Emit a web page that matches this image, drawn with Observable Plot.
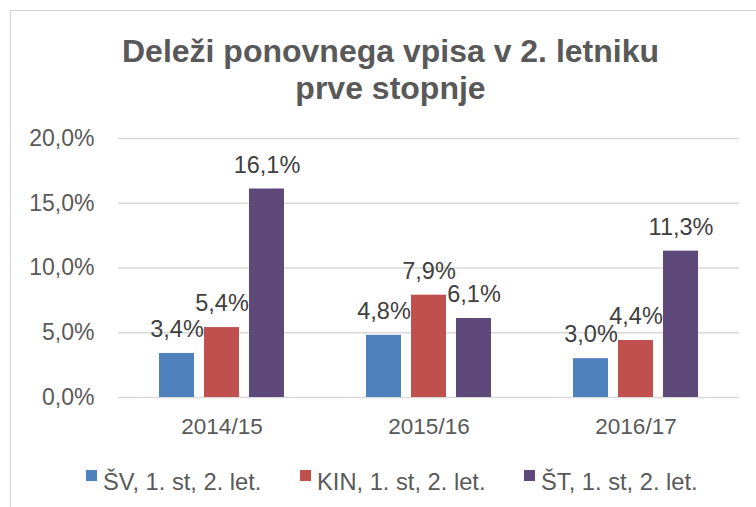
<!DOCTYPE html>
<html>
<head>
<meta charset="utf-8">
<script src="https://cdn.jsdelivr.net/npm/d3@7"></script>
<script src="https://cdn.jsdelivr.net/npm/@observablehq/plot@0.6"></script>
<style>
  html, body { margin: 0; padding: 0; background: #fff; }
  #wrap { position: relative; width: 756px; height: 507px; overflow: hidden; font-family: "Liberation Sans", Arial, sans-serif; }
  #frame { position: absolute; left: 10px; top: 10px; width: 900px; height: 700px; border: 1px solid #d6d6d6; box-sizing: border-box; }
  #title { position: absolute; left: 0; top: 32.5px; width: 781px; text-align: center; font-weight: bold; font-size: 32px; line-height: 37.5px; color: #595959; }
  #chart { position: absolute; left: 0; top: 0; }
  #legend { position: absolute; left: 0; top: 468.4px; width: 756px; height: 30px; font-size: 23.7px; line-height: 28px; color: #595959; white-space: nowrap; }
  .item { position: absolute; top: 0; display: flex; }
  .sw { width: 11px; height: 11px; margin-right: 6px; align-self: flex-start; margin-top: 1.6px; }
</style>
</head>
<body>
<div id="wrap">
  <div id="frame"></div>
  <div id="chart"></div>
  <div id="title">Deleži ponovnega vpisa v 2. letniku<br>prve stopnje</div>
  <div id="legend"></div>
</div>
<script>
const years = ["2014/15", "2015/16", "2016/17"];
const series = ["ŠV, 1. st, 2. let.", "KIN, 1. st, 2. let.", "ŠT, 1. st, 2. let."];
const svValues = [3.4, 4.8, 3.0];
const kinValues = [5.4, 7.9, 4.4];
const stValues = [16.1, 6.1, 11.3];
const colors = ["#4F81BD", "#C0504D", "#5F497A"];
const yTicks = [0, 5, 10, 15, 20];

const seriesValues = [svValues, kinValues, stValues];
const data = [];
years.forEach((yr, i) => {
  series.forEach((s, j) => data.push({year: yr, series: s, value: seriesValues[j][i]}));
});
const fmt = v => d3.format(".1f")(v).replace(".", ",") + "%";

const chart = Plot.plot({
  width: 756,
  height: 507,
  marginLeft: 117,
  marginRight: 17,
  marginTop: 138,
  marginBottom: 110,
  style: {fontFamily: "'Liberation Sans', Arial, sans-serif", fontSize: "23px", background: "transparent"},
  fx: {domain: years, padding: 0, label: null},
  x: {domain: series, axis: null, paddingInner: 0.2174, paddingOuter: 0.862},
  y: {domain: [0, 20], label: null},
  color: {domain: series, range: colors},
  marks: [
    Plot.ruleY(yTicks, {stroke: "#d9d9d9", strokeWidth: 1.6}),
    Plot.barY(data, {fx: "year", x: "series", y: "value", fill: "series"}),
    Plot.text(data, {fx: "year", x: "series", y: "value", text: d => fmt(d.value), lineAnchor: "bottom", dy: -16.5, fill: "#404040", fontSize: 23.5}),
    Plot.axisY({ticks: yTicks, tickFormat: fmt, tickSize: 0, tickPadding: 24, fill: "#595959", fontSize: 23, label: null}),
    Plot.axisFx({anchor: "bottom", tickSize: 0, tickPadding: 21, fill: "#595959", fontSize: 22.5, label: null})
  ]
});
document.getElementById("chart").appendChild(chart);

// legend item left edges (layout)
const legendX = [86, 300, 524];
const legend = document.getElementById("legend");
series.forEach((s, j) => {
  const it = document.createElement("div");
  it.className = "item";
  it.style.left = legendX[j] + "px";
  const sw = document.createElement("div");
  sw.className = "sw";
  sw.style.background = colors[j];
  const tx = document.createElement("span");
  tx.textContent = s;
  it.appendChild(sw);
  it.appendChild(tx);
  legend.appendChild(it);
});
</script>
</body>
</html>
